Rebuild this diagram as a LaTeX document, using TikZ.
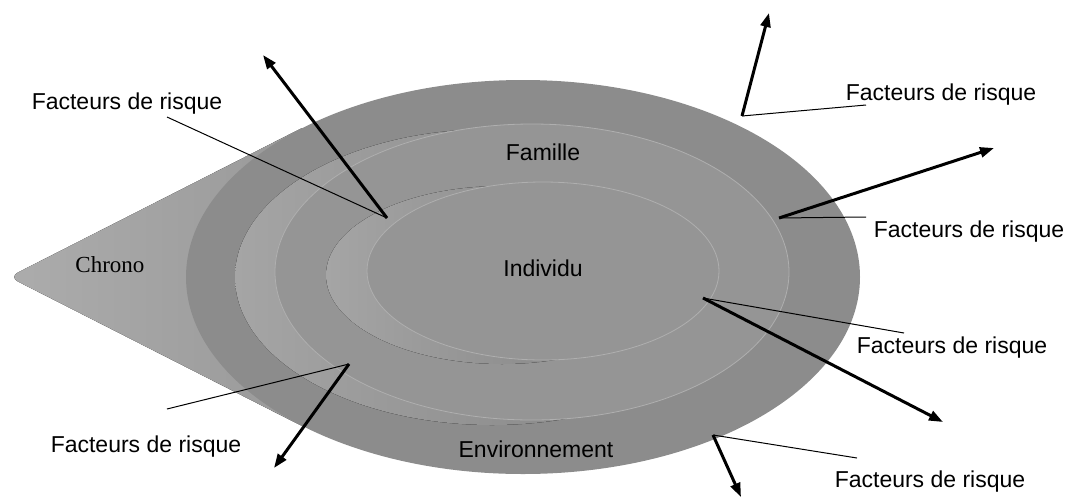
\documentclass[tikz,border=0pt]{standalone}
\usepackage{fontspec}
\setmainfont{Liberation Sans}
\newfontfamily\chronofont{Liberation Serif}
\usetikzlibrary{arrows.meta}
\definecolor{ringdark}{RGB}{140,140,140}
\definecolor{ringface}{RGB}{149,149,149}
\definecolor{ringside}{RGB}{165,165,165}
\definecolor{ringshade}{RGB}{126,126,126}
\definecolor{conelight}{RGB}{172,172,172}
\definecolor{rimline}{RGB}{175,175,175}
\begin{document}
\begin{tikzpicture}
[x=0.5pt, y=-0.5pt, font=\fontsize{11.5}{13}\selectfont]
\tikzstyle{risk}=[inner sep=0pt]
\tikzstyle{side}=[left color=ringside, right color=ringshade]
\tikzstyle{face}=[fill=ringface, draw=rimline, line width=0.4pt]
\tikzstyle{push}=[line width=1.5pt, -{Triangle[length=7pt, width=5pt]}]
\tikzstyle{leader}=[line width=0.5pt]
\useasboundingbox (0,0) rectangle (1066,499);

% cone and outer ring
\fill[left color=conelight, right color=ringdark]
  (302,128) [rounded corners=5pt] -- (9,277) [sharp corners] -- (302,426) -- (523,277) -- cycle;
\fill[ringdark] (523,277) ellipse [x radius=337, y radius=197];
% Famille
\fill[side] (492,277) ellipse [x radius=257, y radius=148];
\filldraw[face] (532,272) ellipse [x radius=257, y radius=148];
% Individu
\fill[side] (502,275) ellipse [x radius=176, y radius=89];
\filldraw[face] (543,271) ellipse [x radius=176, y radius=89];

\node[risk]	(Chrono)	at (110,265)	{\chronofont Chrono};
\node[risk]	(Famille)	at (543,152)	{Famille};
\node[risk]	(Individu)	at (543,268)	{Individu};
\node[risk]	(Env)	at (536,449)	{Environnement};

\node[risk]	(R1)	at (127,104)	{Facteurs de risque};
\node[risk]	(R2)	at (941,95)	{Facteurs de risque};
\node[risk]	(R3)	at (969,232)	{Facteurs de risque};
\node[risk]	(R4)	at (952,348)	{Facteurs de risque};
\node[risk]	(R5)	at (146,447)	{Facteurs de risque};
\node[risk]	(R6)	at (930,482)	{Facteurs de risque};

\coordinate (S1) at (387,218);	\coordinate (E1) at (263,55);	\coordinate (T1) at (167,117);
\coordinate (S2) at (742,116);	\coordinate (E2) at (769,13);	\coordinate (T2) at (866,105);
\coordinate (S3) at (779,218);	\coordinate (E3) at (994,148);	\coordinate (T3) at (866,217);
\coordinate (S4) at (703,298);	\coordinate (E4) at (943,422);	\coordinate (T4) at (904,333);
\coordinate (S5) at (349,364);	\coordinate (E5) at (274,468);	\coordinate (T5) at (167,409);
\coordinate (S6) at (713,435);	\coordinate (E6) at (741,497);	\coordinate (T6) at (857,458);

\draw[leader]	(T1)--(S1);	\draw[push]	(S1)--(E1);
\draw[leader]	(T2)--(S2);	\draw[push]	(S2)--(E2);
\draw[leader]	(T3)--(S3);	\draw[push]	(S3)--(E3);
\draw[leader]	(T4)--(S4);	\draw[push]	(S4)--(E4);
\draw[leader]	(T5)--(S5);	\draw[push]	(S5)--(E5);
\draw[leader]	(T6)--(S6);	\draw[push]	(S6)--(E6);
\end{tikzpicture}
\end{document}
